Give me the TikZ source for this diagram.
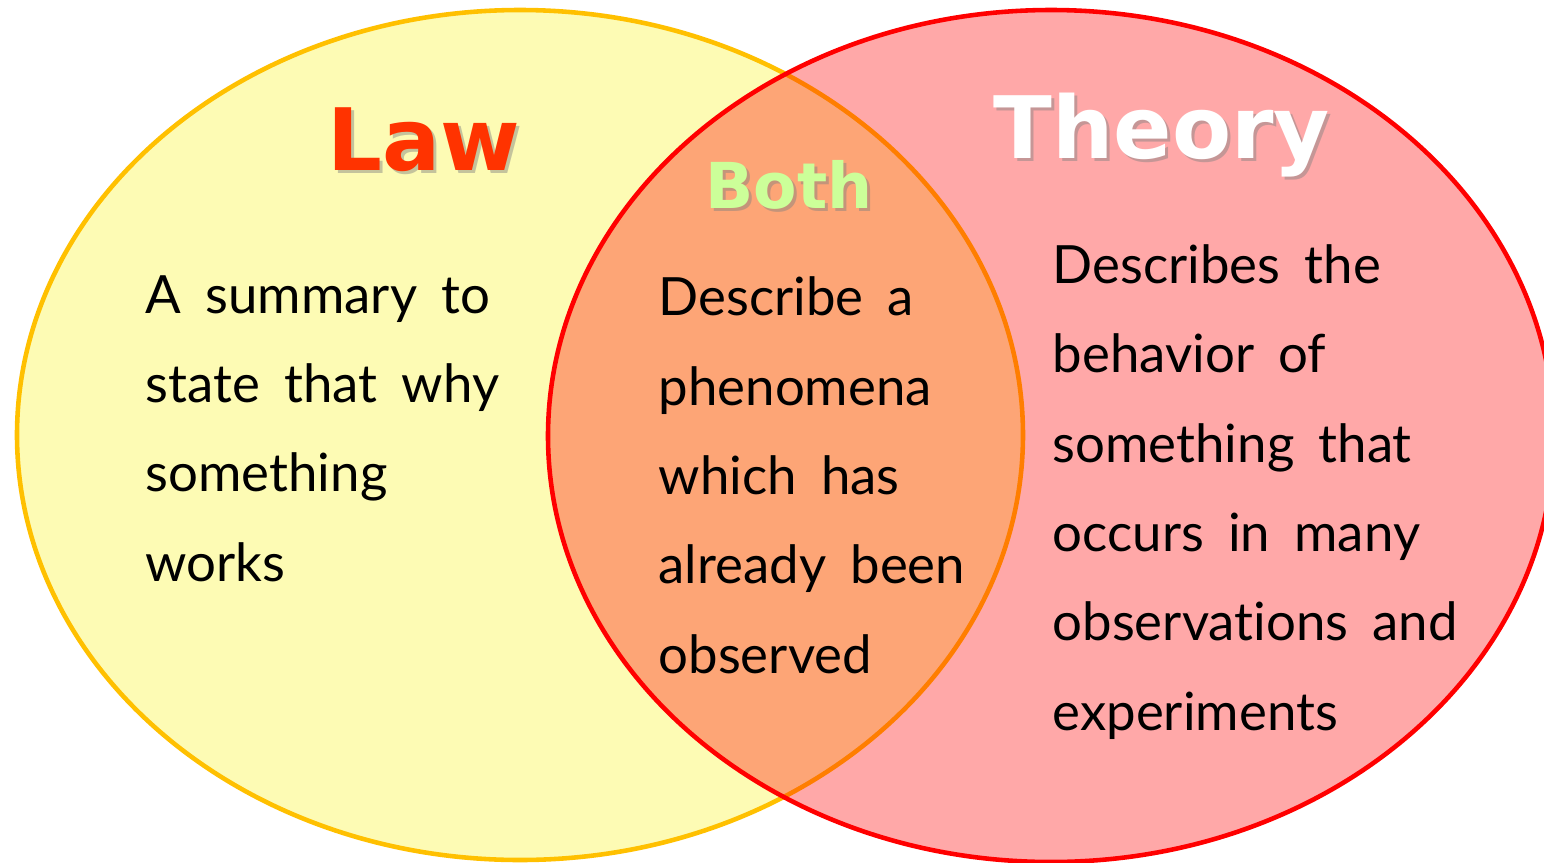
\documentclass[tikz,border=0pt]{standalone}
\usepackage{fontspec}
\newfontfamily\bodyfont[WordSpace=1.8, Ligatures=NoCommon]{Lato}
\newfontfamily\headfont{DejaVu Sans}
\definecolor{lawfill}{RGB}{253,251,180}
\definecolor{lawline}{RGB}{255,192,0}
\definecolor{lawtext}{RGB}{255,51,0}
\definecolor{bothtext}{RGB}{204,255,153}

\begin{document}
\begin{tikzpicture}[x=0.01cm, y=-0.01cm,
    bodytext/.style={anchor=base west, align=left, inner sep=0pt, font=\bodyfont\fontsize{15}{25.4}\selectfont},
    headtext/.style={anchor=base west, inner sep=0pt, font=\headfont\bfseries\fontsize{24.5}{28}\selectfont},
    shadowtext/.style={text=black!50, opacity=0.45}]
      \useasboundingbox (0,0) rectangle (1544,863);
      %
      \draw[draw=lawline, line width=1.3pt, fill=lawfill] (520,435) ellipse [x radius=503, y radius=425];
      \draw[draw=red, line width=1.3pt, fill=red, fill opacity=0.34] (1051,436) ellipse [x radius=503, y radius=426];
      %
      \node[headtext, shadowtext] (lawshadow) at (330,173) {Law};
      \node[headtext, text=lawtext] (law) at (327,170) {Law};
      \node[headtext, shadowtext] (theoryshadow) at (996,161) {Theory};
      \node[headtext, text=white] (theory) at (993,158) {Theory};
      \node[headtext, shadowtext, font=\headfont\bfseries\fontsize{18}{22}\selectfont] (bothshadow) at (708,211) {Both};
      \node[headtext, text=bothtext, font=\headfont\bfseries\fontsize{18}{22}\selectfont] (both) at (705,208) {Both};
      %
      % base anchor of these sits on the last line
      \node[bodytext] (lawdef) at (145,581) {A summary to\\state that why\\something\\works};
      \node[bodytext] (bothdef) at (658,673) {Describe a\\phenomena\\which has\\already been\\observed};
      \node[bodytext] (theorydef) at (1052,730) {Describes the\\behavior of\\something that\\occurs in many\\observations and\\experiments};
    \end{tikzpicture}
\end{document}
